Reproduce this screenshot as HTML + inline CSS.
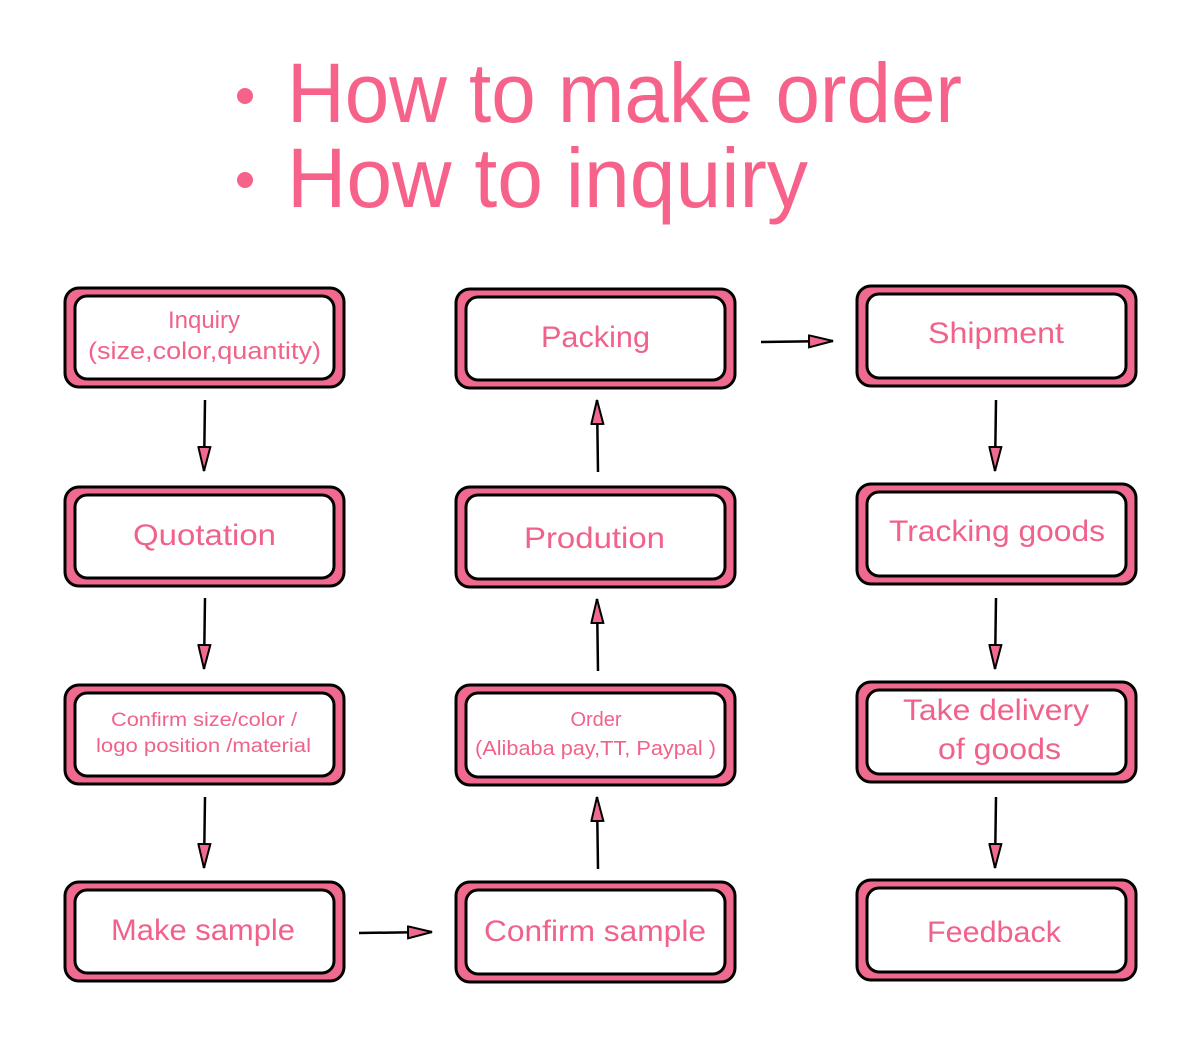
<!DOCTYPE html>
<html><head><meta charset="utf-8"><style>html,body{margin:0;padding:0;background:#fff}svg{display:block}</style></head>
<body>
<svg width="1200" height="1039" viewBox="0 0 1200 1039" xmlns="http://www.w3.org/2000/svg" font-family="Liberation Sans, sans-serif">
<defs>
<marker id="ah" markerWidth="14" markerHeight="10" refX="13" refY="5" orient="auto" markerUnits="userSpaceOnUse">
<path d="M1,1 L13,5 L1,9 Z" fill="#f06a8f" stroke="#000" stroke-width="1.8"/>
</marker>
<marker id="av" markerWidth="26" markerHeight="14" refX="25" refY="7" orient="auto" markerUnits="userSpaceOnUse">
<path d="M1,1 L25,7 L1,13 Z" fill="#f06a8f" stroke="#000" stroke-width="2"/>
</marker>
</defs>
<g fill="#f7628a">
<circle cx="245" cy="96" r="8"/>
<circle cx="245" cy="180" r="8"/>
<text x="287" y="122" font-size="84" textLength="675" lengthAdjust="spacingAndGlyphs">How to make order</text>
<text x="287" y="207" font-size="84" textLength="521" lengthAdjust="spacingAndGlyphs">How to inquiry</text>
</g>
<g stroke="#000" stroke-width="3">
<g fill="#f06a8f">
<rect x="65" y="288" width="279" height="99" rx="14"/>
<rect x="65" y="487" width="279" height="99" rx="14"/>
<rect x="65" y="685" width="279" height="99" rx="14"/>
<rect x="65" y="882" width="279" height="99" rx="14"/>
<rect x="456" y="289" width="279" height="99" rx="14"/>
<rect x="456" y="487" width="279" height="100" rx="14"/>
<rect x="456" y="685" width="279" height="100" rx="14"/>
<rect x="456" y="882" width="279" height="100" rx="14"/>
<rect x="857" y="286" width="279" height="100" rx="14"/>
<rect x="857" y="484" width="279" height="100" rx="14"/>
<rect x="857" y="682" width="279" height="100" rx="14"/>
<rect x="857" y="880" width="279" height="100" rx="14"/>
</g>
<g fill="#fff">
<rect x="75" y="296" width="259" height="83" rx="12"/>
<rect x="75" y="495" width="259" height="83" rx="12"/>
<rect x="75" y="693" width="259" height="83" rx="12"/>
<rect x="75" y="890" width="259" height="83" rx="12"/>
<rect x="466" y="297" width="259" height="83" rx="12"/>
<rect x="466" y="495" width="259" height="84" rx="12"/>
<rect x="466" y="693" width="259" height="84" rx="12"/>
<rect x="466" y="890" width="259" height="84" rx="12"/>
<rect x="867" y="294" width="259" height="84" rx="12"/>
<rect x="867" y="492" width="259" height="84" rx="12"/>
<rect x="867" y="690" width="259" height="84" rx="12"/>
<rect x="867" y="888" width="259" height="84" rx="12"/>
</g>
</g>
<g stroke="#000" stroke-width="2.5" fill="none">
<line x1="205" y1="400" x2="204" y2="471" marker-end="url(#av)"/>
<line x1="205" y1="598" x2="204" y2="669" marker-end="url(#av)"/>
<line x1="205" y1="797" x2="204" y2="868" marker-end="url(#av)"/>
<line x1="598" y1="472" x2="597" y2="400" marker-end="url(#av)"/>
<line x1="598" y1="671" x2="597" y2="599" marker-end="url(#av)"/>
<line x1="598" y1="869" x2="597" y2="797" marker-end="url(#av)"/>
<line x1="996" y1="400" x2="995" y2="471" marker-end="url(#av)"/>
<line x1="996" y1="598" x2="995" y2="669" marker-end="url(#av)"/>
<line x1="996" y1="797" x2="995" y2="868" marker-end="url(#av)"/>
<line x1="359" y1="933" x2="432" y2="932" marker-end="url(#av)"/>
<line x1="761" y1="342" x2="833" y2="341" marker-end="url(#av)"/>
</g>
<g fill="#f0628a">
<text x="204" y="328" font-size="24" text-anchor="middle">Inquiry</text>
<text x="88" y="359" font-size="24" textLength="233" lengthAdjust="spacingAndGlyphs">(size,color,quantity)</text>
<text x="133" y="545" font-size="30" textLength="143" lengthAdjust="spacingAndGlyphs">Quotation</text>
<text x="111" y="726" font-size="19" textLength="186" lengthAdjust="spacingAndGlyphs">Confirm size/color /</text>
<text x="96" y="752" font-size="19" textLength="215" lengthAdjust="spacingAndGlyphs">logo position /material</text>
<text x="111" y="940" font-size="30" textLength="184" lengthAdjust="spacingAndGlyphs">Make sample</text>
<text x="541" y="347" font-size="30" textLength="109" lengthAdjust="spacingAndGlyphs">Packing</text>
<text x="524" y="548" font-size="30" textLength="141" lengthAdjust="spacingAndGlyphs">Prodution</text>
<text x="596" y="726" font-size="20" text-anchor="middle">Order</text>
<text x="475" y="755" font-size="20" textLength="241" lengthAdjust="spacingAndGlyphs">(Alibaba pay,TT, Paypal )</text>
<text x="484" y="941" font-size="30" textLength="222" lengthAdjust="spacingAndGlyphs">Confirm sample</text>
<text x="928" y="343" font-size="30" textLength="136" lengthAdjust="spacingAndGlyphs">Shipment</text>
<text x="889" y="541" font-size="30" textLength="216" lengthAdjust="spacingAndGlyphs">Tracking goods</text>
<text x="903" y="720" font-size="30" textLength="186" lengthAdjust="spacingAndGlyphs">Take delivery</text>
<text x="938" y="759" font-size="30" textLength="123" lengthAdjust="spacingAndGlyphs">of goods</text>
<text x="927" y="942" font-size="30" textLength="134" lengthAdjust="spacingAndGlyphs">Feedback</text>
</g>
</svg>
</body></html>
